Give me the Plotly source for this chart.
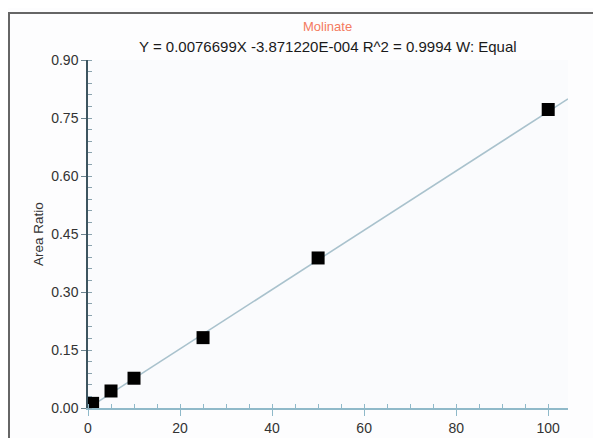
import plotly.graph_objects as go

# Data
conc = [1, 5, 10, 25, 50, 100]
area_ratio = [0.012, 0.044, 0.077, 0.182, 0.388, 0.772]
slope = 0.0076699
intercept = -3.871220e-4
fit_x = [0, 104.3]
fit_y = [slope * x + intercept for x in fit_x]
x_ticks = [0, 20, 40, 60, 80, 100]
y_ticks = [0.0, 0.15, 0.30, 0.45, 0.60, 0.75, 0.90]
y_tick_labels = ["0.00", "0.15", "0.30", "0.45", "0.60", "0.75", "0.90"]
compound = "Molinate"
equation = "Y = 0.0076699X -3.871220E-004 R^2 = 0.9994 W: Equal"

# page has an 8px body margin; figure coordinates are page - 8
OFF = 8
W, H = 601 - OFF, 438 - OFF
L, R, T, B = 88 - OFF, 33, 60 - OFF, 30
pw, ph = W - L - R, H - T - B

def px(x):
    return (x - OFF - L) / pw

def py(y):
    return 1 - (y - OFF - T) / ph

fig = go.Figure()
fig.add_trace(go.Scatter(x=fit_x, y=fit_y, mode="lines",
                         line=dict(color="#a9c2cd", width=1.6),
                         hoverinfo="skip", showlegend=False, cliponaxis=False))
fig.add_trace(go.Scatter(x=conc, y=area_ratio, mode="markers",
                         marker=dict(symbol="square", size=13, color="#000000",
                                     line=dict(width=0)),
                         showlegend=False, cliponaxis=False))

fig.update_layout(
    width=W, height=H,
    margin=dict(l=L, r=R, t=T, b=B, pad=0, autoexpand=False),
    paper_bgcolor="#fdfdfe",
    plot_bgcolor="#fafbfd",
    font=dict(family="Liberation Sans, Arial, sans-serif", color="#333333", size=13),
    showlegend=False,
    xaxis=dict(range=[0, 104.3], showgrid=False, zeroline=False, automargin=False,
               showline=True, linecolor="#8fb9c9", linewidth=1.5,
               tickmode="array", tickvals=x_ticks,
               ticks="outside", ticklen=6, tickcolor="#8fb9c9", tickwidth=1,
               tickfont=dict(size=14, color="#333333"),
               minor=dict(dtick=5, ticks="inside", ticklen=4, tickcolor="#8fb9c9")),
    yaxis=dict(range=[0, 0.9], showgrid=False, zeroline=False, automargin=False,
               showline=True, linecolor="#3d5560", linewidth=1.5,
               tickmode="array", tickvals=y_ticks, ticktext=y_tick_labels,
               ticks="outside", ticklen=5, tickcolor="#6d8590", tickwidth=1,
               tickfont=dict(size=14, color="#333333"),
               minor=dict(dtick=0.03, ticks="inside", ticklen=4, tickcolor="#8aa3ae"),
               title=dict(text="Area Ratio", font=dict(size=13.5, color="#333333"),
                          standoff=4)),
)

fig.add_annotation(text=compound, xref="paper", yref="paper",
                   x=px(327), y=py(26), showarrow=False,
                   font=dict(size=13, color="#f47a60"), xanchor="center", yanchor="middle")
fig.add_annotation(text=equation, xref="paper", yref="paper",
                   x=px(328), y=py(46), showarrow=False,
                   font=dict(size=15, color="#1a1a1a"), xanchor="center", yanchor="middle")

fig.add_shape(type="rect", xref="paper", yref="paper",
              x0=px(9), x1=px(640), y0=py(480), y1=py(13),
              line=dict(color="#666666", width=2), fillcolor="rgba(0,0,0,0)", layer="below")

fig.write_html("out.html")
